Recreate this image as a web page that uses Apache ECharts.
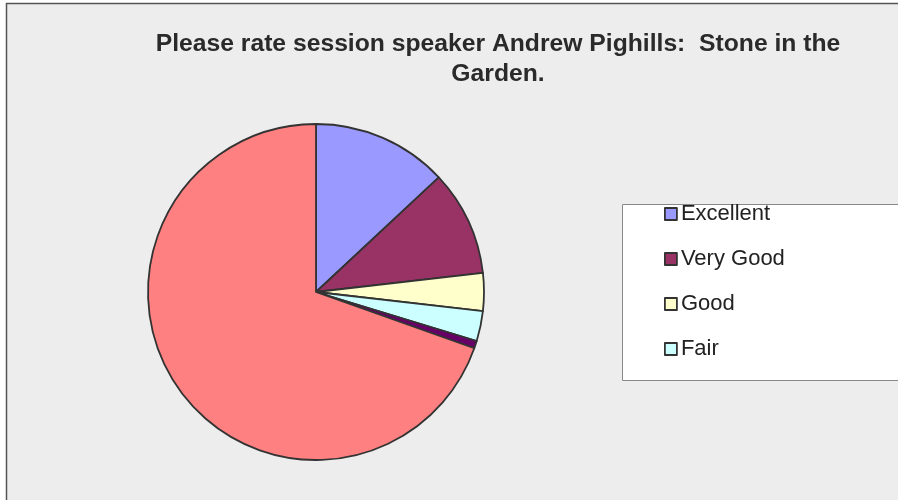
<!DOCTYPE html>
<html><head><meta charset="utf-8">
<script src="https://cdn.jsdelivr.net/npm/echarts@6/dist/echarts.min.js"></script>
<style>html,body{margin:0;padding:0;background:#fff}#c{width:898px;height:500px}</style>
</head><body><div id="c"></div>
<script>
const categories = ['Excellent', 'Very Good', 'Good', 'Fair', 'Poor', 'N/A'];
const values = [18, 14, 5, 4, 1, 96];
const colors = ['#9999FF', '#993366', '#FFFFCC', '#CCFFFF', '#660066', '#FF8080'];
const legendItems = ['Excellent', 'Very Good', 'Good', 'Fair'];
const titleText = 'Please rate session speaker Andrew Pighills:  Stone in the\nGarden.';

const chart = echarts.init(document.getElementById('c'), null, {renderer: 'canvas'});
chart.setOption({
  animation: false,
  backgroundColor: '#ffffff',
  graphic: [
    {type: 'rect', z: -10, shape: {x: 6.5, y: 3.5, width: 1000, height: 1000},
     style: {fill: '#EDEDED', stroke: '#555', lineWidth: 1.5}},
    {type: 'rect', z: -5, shape: {x: 622.5, y: 204.5, width: 300, height: 176},
     style: {fill: '#ffffff', stroke: '#888', lineWidth: 1}}
  ],
  title: {
    text: titleText,
    left: 493, top: 24, textAlign: 'center',
    textStyle: {fontFamily: 'Liberation Sans', fontSize: 24.7, fontWeight: 'bold', color: '#2a2a2a', lineHeight: 30}
  },
  legend: {
    data: legendItems,
    orient: 'vertical',
    left: 664, top: 203, padding: 0,
    itemWidth: 12, itemHeight: 12, itemGap: 23,
    icon: 'rect',
    itemStyle: {borderColor: '#333', borderWidth: 1.8},
    textStyle: {fontFamily: 'Liberation Sans', fontSize: 22, color: '#222', lineHeight: 22, padding: [0, 0, 0, -1]}
  },
  series: [{
    type: 'pie',
    center: [316, 292],
    radius: 168,
    startAngle: 90,
    clockwise: true,
    label: {show: false},
    labelLine: {show: false},
    emphasis: {disabled: true},
    itemStyle: {borderColor: '#333', borderWidth: 1.8},
    data: categories.map((n, i) => ({name: n, value: values[i], itemStyle: {color: colors[i]}}))
  }]
});
</script></body></html>
